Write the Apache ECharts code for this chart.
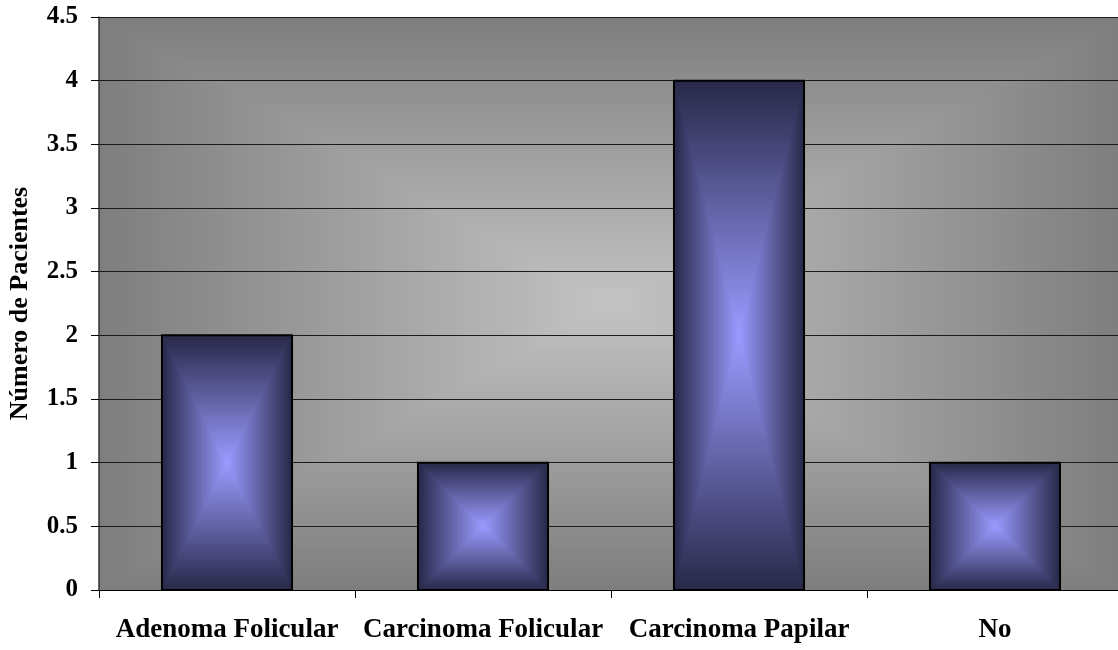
<!DOCTYPE html>
<html>
<head>
<meta charset="utf-8">
<script src="https://cdn.jsdelivr.net/npm/echarts@6/dist/echarts.min.js"></script>
<style>
  html, body { margin: 0; padding: 0; background: #ffffff; }
  #chart { width: 1118px; height: 650px; }
</style>
</head>
<body>
<div id="chart"></div>
<script>
// Diagnóstico por paciente
const categories = ['Adenoma Folicular', 'Carcinoma Folicular', 'Carcinoma Papilar', 'No'];
const pacientes = [2, 1, 4, 1];
const yTicks = { min: 0, max: 4.5, interval: 0.5 };
const yAxisTitle = 'Número de Pacientes';

const FONT = '"Liberation Serif", "Times New Roman", serif';

function hexToRgb(h) {
  const n = parseInt(h.slice(1), 16);
  return [(n >> 16) & 255, (n >> 8) & 255, n & 255];
}
function mix(a, b, t) {
  const r = a.map((v, k) => Math.round(v + (b[k] - v) * t));
  return 'rgb(' + r.join(',') + ')';
}

// Rectangle shaded "from the centre": nested rectangles stepping from the edge colour to the centre colour
function boxGradient(x0, y0, x1, y1, edge, centre, steps) {
  const e = hexToRgb(edge), c = hexToRgb(centre);
  const hw = (x1 - x0) / 2, hh = (y1 - y0) / 2;
  const out = [];
  for (let i = 0; i < steps; i++) {
    const f = i / steps;
    const dx = hw * f, dy = hh * f;
    out.push({
      type: 'rect',
      shape: { x: x0 + dx, y: y0 + dy, width: (x1 - x0) - 2 * dx, height: (y1 - y0) - 2 * dy },
      style: { fill: mix(e, c, i / (steps - 1)) }
    });
  }
  return out;
}

const chart = echarts.init(document.getElementById('chart'), null, { renderer: 'canvas' });

chart.setOption({
  animation: false,
  backgroundColor: '#ffffff',
  grid: { left: 99, top: 17, right: -5, bottom: 60, containLabel: false, outerBoundsMode: 'none' },
  xAxis: {
    type: 'category',
    data: categories,
    axisLine: { show: true, lineStyle: { color: '#000000', width: 1 } },
    axisTick: { show: true, length: 8, alignWithLabel: false, lineStyle: { color: '#000000' } },
    axisLabel: { color: '#000000', fontFamily: FONT, fontWeight: 'bold', fontSize: 27, margin: 27, interval: 0 },
    splitLine: { show: false }
  },
  yAxis: {
    type: 'value',
    min: yTicks.min, max: yTicks.max, interval: yTicks.interval,
    name: yAxisTitle,
    nameLocation: 'middle',
    nameGap: 66,
    nameRotate: 90,
    nameTextStyle: { color: '#000000', fontFamily: FONT, fontWeight: 'bold', fontSize: 26 },
    axisLine: { show: true, lineStyle: { color: '#333333', width: 1.5 } },
    axisTick: { show: true, length: 8, lineStyle: { color: '#000000' } },
    axisLabel: { color: '#000000', fontFamily: FONT, fontWeight: 'bold', fontSize: 25, margin: 21 },
    splitLine: { show: true, lineStyle: { color: '#1a1a1a', width: 1 } }
  },
  series: [
    {
      // plot-area fill, shaded grey from the centre outward
      type: 'custom',
      z: -1,
      silent: true,
      data: [[0, 0]],
      renderItem: function (params) {
        const cs = params.coordSys;
        return {
          type: 'group',
          children: boxGradient(cs.x, cs.y, cs.x + cs.width, cs.y + cs.height, '#7e7e7e', '#c3c3c3', 90)
        };
      }
    },
    {
      type: 'custom',
      name: yAxisTitle,
      z: 3,
      data: categories.map((c, i) => [i, pacientes[i]]),
      encode: { x: 0, y: 1 },
      renderItem: function (params, api) {
        const cat = api.value(0), val = api.value(1);
        const top = api.coord([cat, val]);
        const base = api.coord([cat, 0]);
        const band = api.size([1, 0])[0];
        const w = band * 0.508;
        const x0 = top[0] - w / 2, x1 = top[0] + w / 2;
        const y0 = top[1], y1 = base[1];
        const parts = boxGradient(x0, y0, x1, y1, '#29294a', '#9a9aff', 64);
        parts.push({
          type: 'rect',
          shape: { x: x0, y: y0, width: w, height: y1 - y0 },
          style: { fill: null, stroke: '#000000', lineWidth: 2 }
        });
        return { type: 'group', children: parts };
      }
    }
  ]
});
</script>
</body>
</html>
